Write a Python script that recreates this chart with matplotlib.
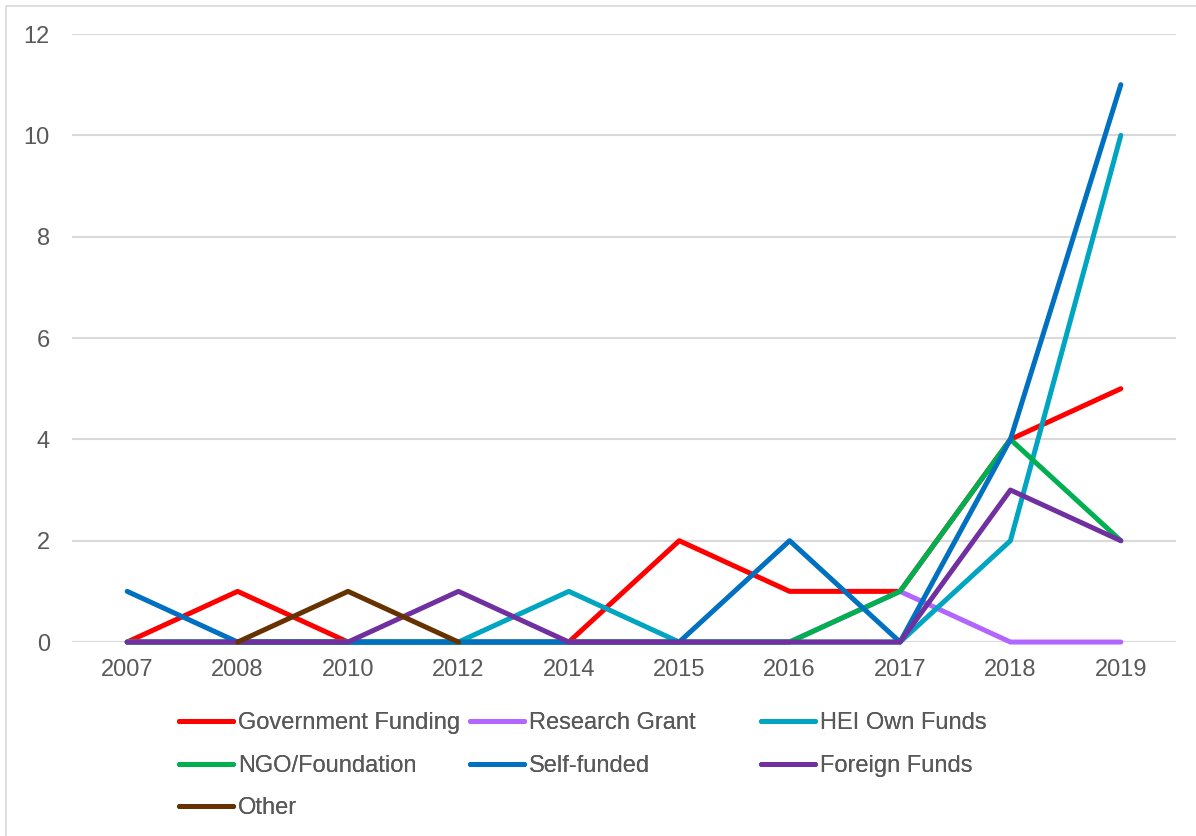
import matplotlib
matplotlib.use('Agg')
import matplotlib.pyplot as plt
from matplotlib.patches import Rectangle

years = ['2007', '2008', '2010', '2012', '2014', '2015', '2016', '2017', '2018', '2019']

government = [0, 1, 0, 0, 0, 2, 1, 1, 4, 5]
research = [0, 0, 0, 0, 0, 0, 0, 1, 0, 0]
hei_own = [0, 0, 0, 0, 1, 0, 0, 0, 2, 10]
ngo = [0, 0, 0, 0, 0, 0, 0, 1, 4, 2]
self_funded = [1, 0, 0, 0, 0, 0, 2, 0, 4, 11]
foreign = [0, 0, 0, 1, 0, 0, 0, 0, 3, 2]
other = [None, 0, 1, 0, None, None, None, None, None, None]

names = ['Government Funding', 'Research Grant', 'HEI Own Funds', 'NGO/Foundation',
         'Self-funded', 'Foreign Funds', 'Other']
colors = ['#FF0000', '#B266FF', '#00A5C2', '#00B050', '#0070C0', '#7030A0', '#663300']
series = [government, research, hei_own, ngo, self_funded, foreign, other]

plt.rcParams['font.family'] = ['Liberation Sans', 'DejaVu Sans']
txt = '#595959'

fig = plt.figure(figsize=(11.96, 8.36), dpi=100)
ax = fig.add_axes([0.0602, 0.232, 0.9231, 0.7273])

x = list(range(len(years)))
handles = []
for vals, name, c in zip(series, names, colors):
    v = [float('nan') if a is None else a for a in vals]
    h, = ax.plot(x, v, color=c, lw=3.6, label=name,
                 solid_capstyle='round', solid_joinstyle='round')
    handles.append(h)

ax.set_xlim(-0.5, len(years) - 0.5)
ax.set_ylim(0, 12)
ax.set_yticks(range(0, 13, 2))
ax.set_xticks(x)
ax.set_xticklabels(years)
ax.grid(axis='y', color='#D9D9D9', lw=1.5)
ax.set_axisbelow(True)
for s in ax.spines.values():
    s.set_visible(False)
ax.tick_params(length=0, labelsize=17, labelcolor=txt)
ax.tick_params(axis='y', pad=16)
ax.tick_params(axis='x', pad=12)
for ln in ax.lines:
    ln.set_clip_on(False)

# legend: Excel fills rows, so split into three columns
cols = [[0, 3, 6], [1, 4], [2, 5]]
xs = [0.1497, 0.393, 0.636]
for idx, xp in zip(cols, xs):
    lg = fig.legend([handles[i] for i in idx], [names[i] for i in idx],
                    loc='upper left', bbox_to_anchor=(xp, 0.148),
                    frameon=False, fontsize=17, borderpad=0, borderaxespad=0,
                    handlelength=2.3, handletextpad=0.2, labelspacing=0.87,
                    labelcolor=txt)
    fig.add_artist(lg)

fig.add_artist(Rectangle((0.005, -0.05), 1.2, 1.043, transform=fig.transFigure,
                         fill=False, edgecolor='#D9D9D9', lw=1.2))

fig.savefig('out.png', dpi=100)
